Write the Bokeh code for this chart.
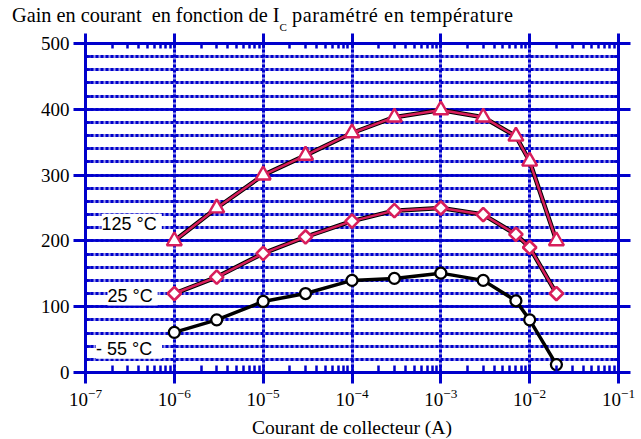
import math
from bokeh.plotting import figure
from bokeh.layouts import column
from bokeh.models import (LogAxis, LinearAxis, Label, SingleIntervalTicker,
                          LogTicker, Range1d, Grid, CustomJSTickFormatter, Div)
from bokeh.embed import file_html
from bokeh.resources import INLINE

# ---- data ----
current = [1e-6, 3e-6, 1e-5, 3e-5, 1e-4, 3e-4, 1e-3, 3e-3, 7e-3, 1e-2, 2e-2]
gain_125 = [200, 250, 300, 330, 364, 388, 399, 388, 359, 321, 200]
gain_25 = [120, 145, 181, 206, 230, 246, 250, 240, 210, 190, 120]
gain_m55 = [61, 80, 108, 120, 140, 143, 151, 140, 109, 80, 12]
series_labels = ["125  °C", "25  °C", "-  55  °C"]
title_parts = ["Gain en courant  en fonction de I", "C", "paramétré en température"]
x_title = "Courant de collecteur (A)"

BLUE = "#0000cc"
LIGHT = "#9a9ae8"
PINK = "#d81e5b"
SERIF = "Liberation Serif"
SANS = "Liberation Sans"

p = figure(width=641, height=380, x_axis_type="log",
           x_range=Range1d(1e-7, 1e-1), y_range=Range1d(0, 500),
           output_backend="svg", toolbar_location=None,
           min_border_left=85, min_border_right=23,
           min_border_top=11, min_border_bottom=40, margin=(0, 0, 0, 0))
p.outline_line_color = None
p.background_fill_color = "white"

xt = LogTicker(desired_num_ticks=7, num_minor_ticks=10)
yt = SingleIntervalTicker(interval=100, num_minor_ticks=5)

def style_axis(ax, out_major=12, in_minor=5):
    ax.axis_line_color = BLUE
    ax.axis_line_width = 3
    ax.major_tick_line_color = BLUE
    ax.major_tick_line_width = 3
    ax.major_tick_out = out_major
    ax.major_tick_in = 0
    ax.minor_tick_line_color = BLUE
    ax.minor_tick_line_width = 2.5
    ax.minor_tick_in = in_minor
    ax.minor_tick_out = 0
    ax.major_label_text_font = SERIF
    ax.major_label_text_color = "black"
    ax.major_label_text_font_size = "19px"

bx = p.xaxis[0]
bx.ticker = xt
style_axis(bx, out_major=11, in_minor=7)
bx.major_label_standoff = 5

ly = p.yaxis[0]
ly.ticker = yt
style_axis(ly, out_major=12, in_minor=5)
ly.major_label_standoff = 4

blank = CustomJSTickFormatter(code="return ''")
tx = LogAxis(ticker=xt, formatter=blank)
style_axis(tx, out_major=10, in_minor=5)
tx.major_label_standoff = 0
p.add_layout(tx, "above")
ry = LinearAxis(ticker=yt, formatter=blank)
style_axis(ry, out_major=12, in_minor=5)
ry.major_label_standoff = 0
p.add_layout(ry, "right")

# grids
p.xgrid.ticker = xt
p.xgrid.grid_line_color = LIGHT
p.xgrid.grid_line_width = 3
p.ygrid.ticker = yt
p.ygrid.grid_line_color = BLUE
p.ygrid.grid_line_width = 2.5
p.ygrid.minor_grid_line_color = LIGHT
p.ygrid.minor_grid_line_width = 3

gx = Grid(dimension=0, ticker=xt, grid_line_color=BLUE, grid_line_width=3,
          grid_line_dash="3 2")
gy = Grid(dimension=1, ticker=yt, grid_line_color=None,
          minor_grid_line_color=BLUE, minor_grid_line_width=3,
          minor_grid_line_dash="3 2")
p.add_layout(gx)
p.add_layout(gy)

# curves
p.line(current, gain_125, line_color="black", line_width=4.5)
p.line(current, gain_125, line_color=PINK, line_width=2.5)
p.scatter(current, gain_125, marker="triangle", size=15, line_color=PINK,
          line_width=2.4, fill_color="white")

p.line(current, gain_25, line_color="black", line_width=4.5)
p.line(current, gain_25, line_color=PINK, line_width=2.5)
p.scatter(current, gain_25, marker="square", size=9.5, angle=math.pi / 4,
          line_color=PINK, line_width=2.6, fill_color="white")

p.line(current, gain_m55, line_color="black", line_width=3.5)
p.scatter(current, gain_m55, marker="circle", size=11, line_color="black",
          line_width=2.3, fill_color="white")

# series labels
for txt, lx, ly_ in zip(series_labels, [10**-6.48, 10**-6.47, 10**-6.51], [226, 117, 36]):
    p.add_layout(Label(x=lx, y=ly_, text=txt, text_align="center",
                       text_baseline="middle", text_font=SANS,
                       text_font_size="18px", text_color="black",
                       background_fill_color="white"))

# title (with subscript) and x-axis title as HTML text
title_html = (
    '<div style="font-family:\'Liberation Serif\';font-size:20.3px;line-height:14px;'
    'color:#000;white-space:pre;padding-left:12px;padding-top:8px;">'
    f'{title_parts[0]}<span style="font-size:11px;position:relative;top:9px;">'
    f'{title_parts[1]}</span> <span style="letter-spacing:0.6px;">{title_parts[2]}</span></div>'
)
title_div = Div(text=title_html, width=641, height=32, margin=(0, 0, 0, 0))

xlab_html = (
    '<div style="width:578px;margin-left:63px;text-align:center;padding-top:6px;'
    'font-family:\'Liberation Serif\';font-size:19.5px;line-height:19px;'
    f'color:#000;white-space:pre;">{x_title}</div>'
)
xlab_div = Div(text=xlab_html, width=641, height=27, margin=(0, 0, 0, 0))

layout = column(title_div, p, xlab_div, spacing=0)
open("out.html", "w").write(file_html(layout, INLINE))
